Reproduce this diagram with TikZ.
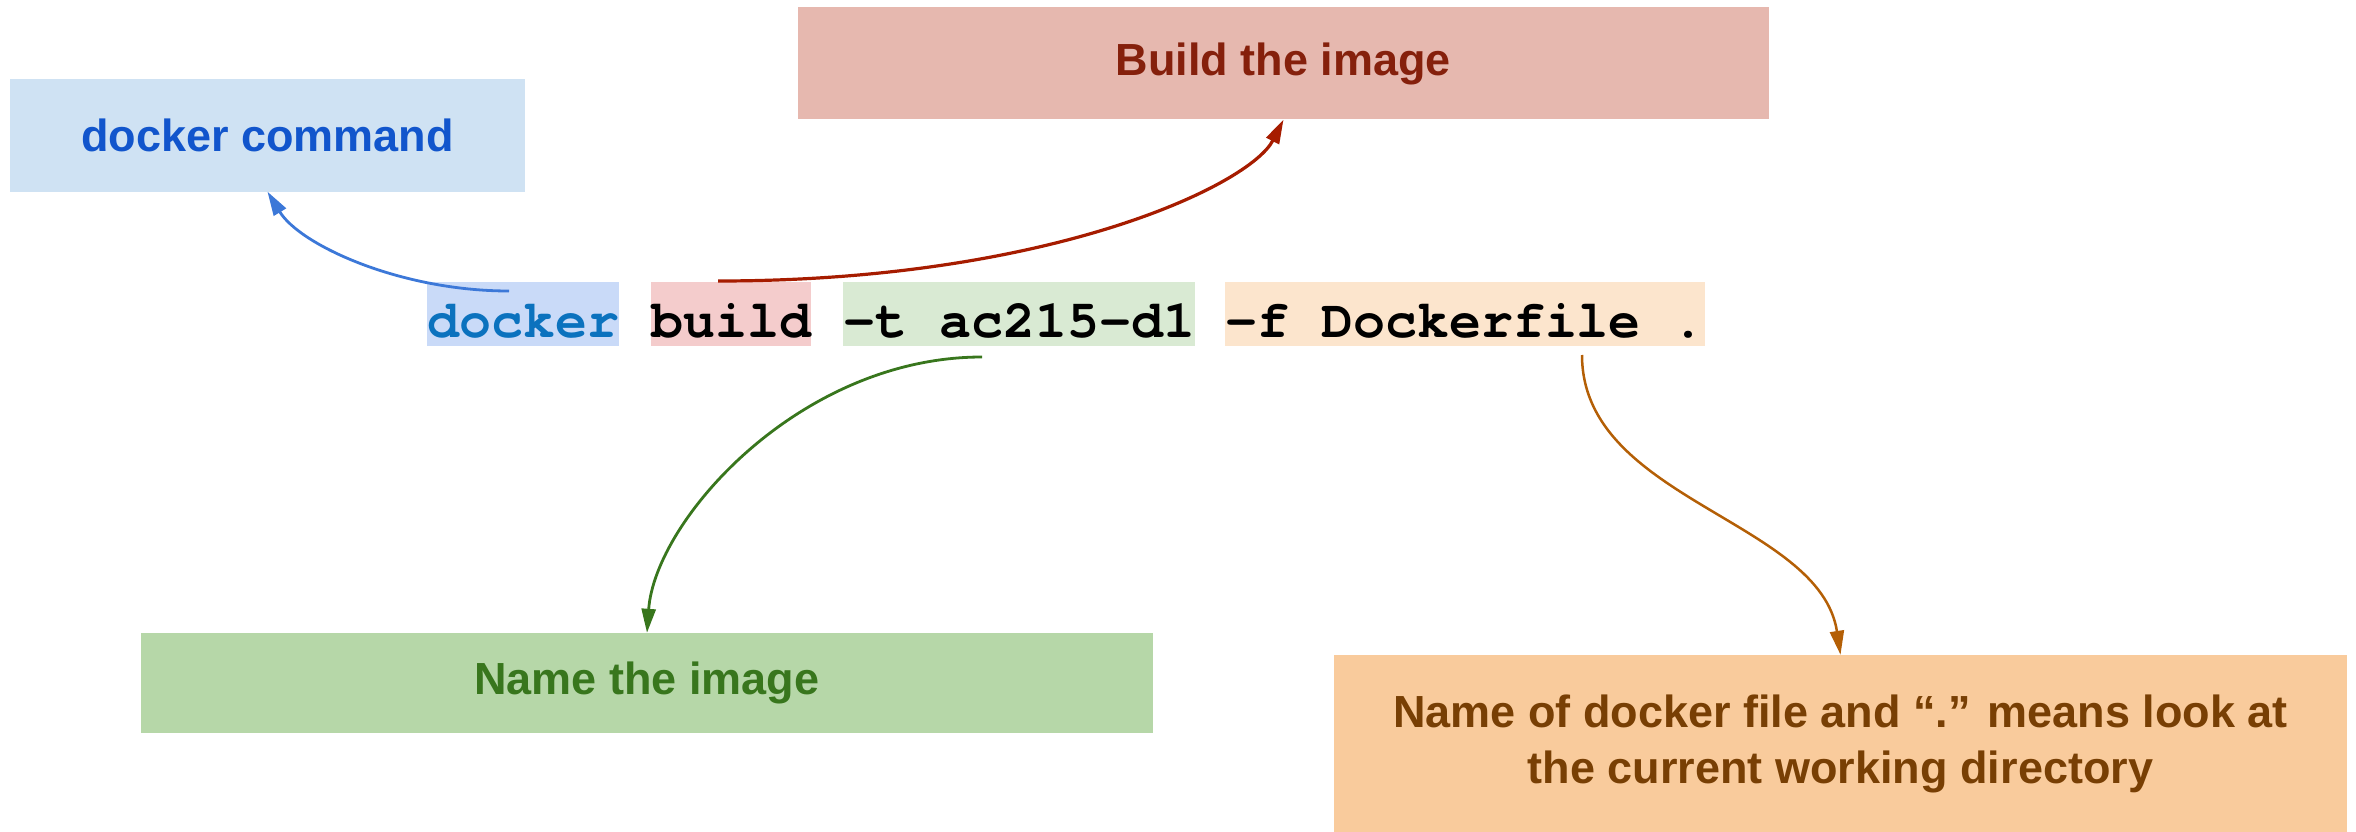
\documentclass[tikz,border=0pt]{standalone}
\usepackage{fontspec}
\setmainfont{Liberation Sans}
\newfontfamily\cmdfont{texgyrecursor}[Extension=.otf, UprightFont=*-regular, BoldFont=*-bold, Ligatures=NoCommon]
\usetikzlibrary{arrows.meta}
\definecolor{cmdbg}{HTML}{CFE2F3}
\definecolor{cmdtxt}{HTML}{1155CC}
\definecolor{buildbg}{HTML}{E6B8AF}
\definecolor{buildtxt}{HTML}{85200C}
\definecolor{namebg}{HTML}{B6D7A8}
\definecolor{nametxt}{HTML}{38761D}
\definecolor{filebg}{HTML}{F9CB9C}
\definecolor{filetxt}{HTML}{783F04}
\definecolor{hlblue}{HTML}{C9DAF8}
\definecolor{hlred}{HTML}{F4CCCC}
\definecolor{hlgreen}{HTML}{D9EAD3}
\definecolor{hlorange}{HTML}{FCE5CD}
\definecolor{dockerblue}{HTML}{0B72BE}
\definecolor{arblue}{HTML}{3C78D8}
\definecolor{arred}{HTML}{A61C00}
\definecolor{argreen}{HTML}{38761D}
\definecolor{arorange}{HTML}{B45F06}
\begin{document}
\begin{tikzpicture}[x=1pt,y=-1pt,
  labelbox/.style={rectangle, inner sep=0pt, align=center,
    font=\fontsize{45}{56}\selectfont\bfseries},
  hlbox/.style={rectangle, anchor=north west, inner xsep=0pt, inner ysep=7pt,
    text height=48pt, text depth=2pt,
    font=\fontsize{53.3}{60}\selectfont\cmdfont\bfseries},
  conn/.style={line width=2.8pt, -{Triangle[length=24pt,width=14pt]}}]
\useasboundingbox (0,0) rectangle (2356,832);

% label boxes
\node[labelbox, fill=cmdbg, text=cmdtxt, minimum width=515pt, minimum height=112pt] (cmd) at (267.5,135.5) {docker command};
\node[labelbox, fill=buildbg, text=buildtxt, minimum width=971pt, minimum height=112pt] (bld) at (1283.5,63.5) {Build the image};
\node[labelbox, fill=namebg, text=nametxt, minimum width=1012pt, minimum height=100pt] (nm) at (647,683) {Name the image};
\node[labelbox, fill=filebg, text=filetxt, minimum width=1013pt, minimum height=177pt] (fl) at (1840.5,743.5) {Name of docker file and “.” means look at\\the current working directory};

% command line highlights
\node[hlbox, fill=hlblue, text=dockerblue] (hdocker) at (427,282) {docker};
\node[hlbox, fill=hlred] (hbuild) at (651,282) {build};
\node[hlbox, fill=hlgreen] (htag) at (843,282) {-t ac215-d1};
\node[hlbox, fill=hlorange] (hfile) at (1225,282) {-f Dockerf\kern0ptile .};

% connector start points
\coordinate (s1) at (509,291);
\coordinate (s2) at (718,281);
\coordinate (s3) at (982,357);
\coordinate (s4) at (1582,355);

\draw[conn, arblue] (s1) .. controls (400,291) and (300,245) .. (cmd.south);
\draw[conn, arred, line width=3.2pt] (s2) .. controls (1050,281) and (1250,185) .. (bld.south);
\draw[conn, argreen] (s3) .. controls (800,357) and (655,520) .. (nm.north);
\draw[conn, arorange, line width=2.5pt] (s4) .. controls (1582,500) and (1820,520) .. (fl.north);
\end{tikzpicture}
\end{document}
